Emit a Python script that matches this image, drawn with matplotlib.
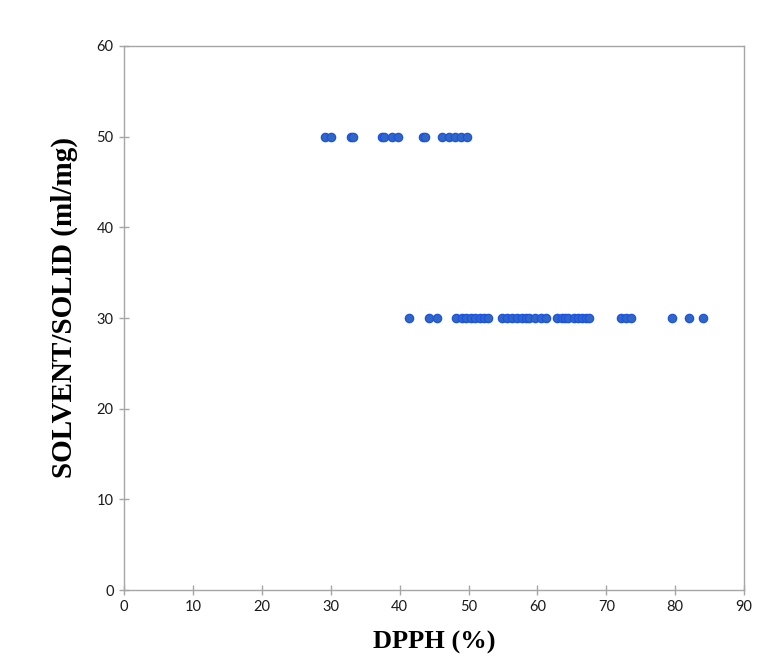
import matplotlib
matplotlib.use('Agg')
import matplotlib.pyplot as plt

# DPPH (%) readings, grouped by solvent/solid ratio
dpph_50 = [29.1, 30.0, 33.0, 33.2, 37.5, 37.8, 38.9, 39.7, 43.4, 43.7,
           46.2, 47.1, 48.1, 48.9, 49.8]
dpph_30 = [41.3, 44.3, 45.4, 48.2, 49.0, 49.7, 50.4, 51.0, 51.7, 52.3,
           52.8, 54.8, 55.6, 56.3, 57.1, 57.7, 58.3, 58.8, 59.7, 60.5,
           61.2, 62.9, 63.5, 64.0, 64.4, 65.3, 65.9, 66.4, 67.1, 67.5,
           72.1, 72.8, 73.6, 79.6, 82.0, 84.0]
ratio_50 = [50] * len(dpph_50)
ratio_30 = [30] * len(dpph_30)

xticks = list(range(0, 91, 10))
yticks = list(range(0, 61, 10))

fig = plt.figure(figsize=(7.8, 6.59), dpi=100)
ax = fig.add_axes([0.159, 0.1047, 0.795, 0.8255])

ax.scatter(dpph_50 + dpph_30, ratio_50 + ratio_30, s=36,
           facecolor='#3066c4', edgecolor='#1c52e6', linewidth=0.9, zorder=3)

ax.set_xlim(0, 90)
ax.set_ylim(0, 60)
ax.set_xticks(xticks)
ax.set_yticks(yticks)

for sp in ax.spines.values():
    sp.set_color('#a6a6a6')
    sp.set_linewidth(1.0)
ax.tick_params(direction='inout', length=7, width=1.0, color='#a6a6a6',
               labelsize=10.5, labelcolor='#1a1a1a', pad=4)
for lab in ax.get_xticklabels() + ax.get_yticklabels():
    lab.set_family('Lato')

ax.set_xlabel('DPPH (%)', family='Liberation Serif', fontweight='bold',
              fontsize=19, labelpad=12)
ax.set_ylabel('SOLVENT/SOLID (ml/mg)', family='Liberation Serif',
              fontweight='bold', fontsize=21)
ax.yaxis.set_label_coords(-0.074, 0.52)

fig.savefig('out.png', dpi=100)
